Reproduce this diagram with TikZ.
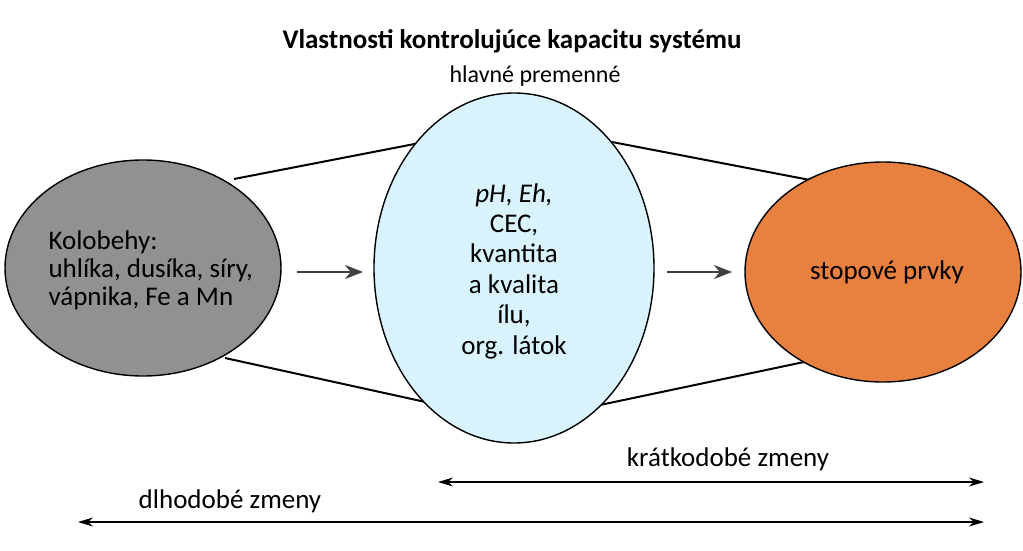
\documentclass[tikz,border=0pt]{standalone}
\usepackage{fontspec}
\setmainfont{Carlito}
\usetikzlibrary{shapes.geometric,arrows.meta}
\begin{document}
\begin{tikzpicture}[x=1pt,y=-1pt,
  blob/.style={ellipse,draw=black,line width=1.4pt,inner sep=0pt},
  link/.style={line width=2pt},
  arr/.style={line width=2.4pt,draw=black!75,-{Stealth[length=18pt,width=14pt]}},
  span/.style={line width=1.4pt,{Stealth[length=15pt,width=9pt]}-{Stealth[length=15pt,width=9pt]}},
  txt/.style={font=\fontsize{27}{28}\selectfont}]
\useasboundingbox (0,0) rectangle (1023,551);
\coordinate (g1) at (234,179); \coordinate (c1) at (430,141);
\coordinate (g2) at (225,358); \coordinate (c2) at (430,403);
\coordinate (c3) at (612,142); \coordinate (o1) at (810,180);
\coordinate (c4) at (600,405); \coordinate (o2) at (804,362);
\draw[link] (g1) -- (c1);
\draw[link] (g2) -- (c2);
\draw[link] (c3) -- (o1);
\draw[link] (c4) -- (o2);
\node[font=\bfseries\fontsize{27}{30}\selectfont] (title) at (512,41) {Vlastnosti kontrolujúce kapacitu systému};
\node[font=\fontsize{24}{26}\selectfont] (hp) at (535,76) {hlavné premenné};
\node[blob,fill=gray!85!black!75,minimum width=276pt,minimum height=216pt] (g) at (143,268) {};
\node[blob,fill=cyan!15,minimum width=280pt,minimum height=350pt] (c) at (514,268) {};
\node[blob,fill={rgb,255:red,232;green,128;blue,64},minimum width=276pt,minimum height=220pt] (o) at (883,272) {};
\node[txt,align=left,anchor=west,font=\fontsize{27}{28}\selectfont] (gt) at (45,270) {Kolobehy:\\uhlíka, dusíka, síry,\\vápnika, Fe a Mn};
\node[txt,align=center,font=\fontsize{27}{30.4}\selectfont] (ct) at (514,271) {\textit{pH, Eh,}\\CEC,\\kvantita\\a kvalita\\ílu,\\org. látok};
\node[txt] (ot) at (887,272) {stopové prvky};
\coordinate (a1) at (297,272); \coordinate (a2) at (363,272);
\coordinate (b1) at (667,272); \coordinate (b2) at (732,272);
\draw[arr] (a1) -- (a2);
\draw[arr] (b1) -- (b2);
\coordinate (k1) at (438,482); \coordinate (k2) at (984,482);
\draw[span] (k1) -- (k2);
\node[txt] (kl) at (728,459) {krátkodobé zmeny};
\coordinate (d1) at (78,522); \coordinate (d2) at (984,522);
\draw[span] (d1) -- (d2);
\node[txt] (dl) at (230,501) {dlhodobé zmeny};
\end{tikzpicture}
\end{document}
